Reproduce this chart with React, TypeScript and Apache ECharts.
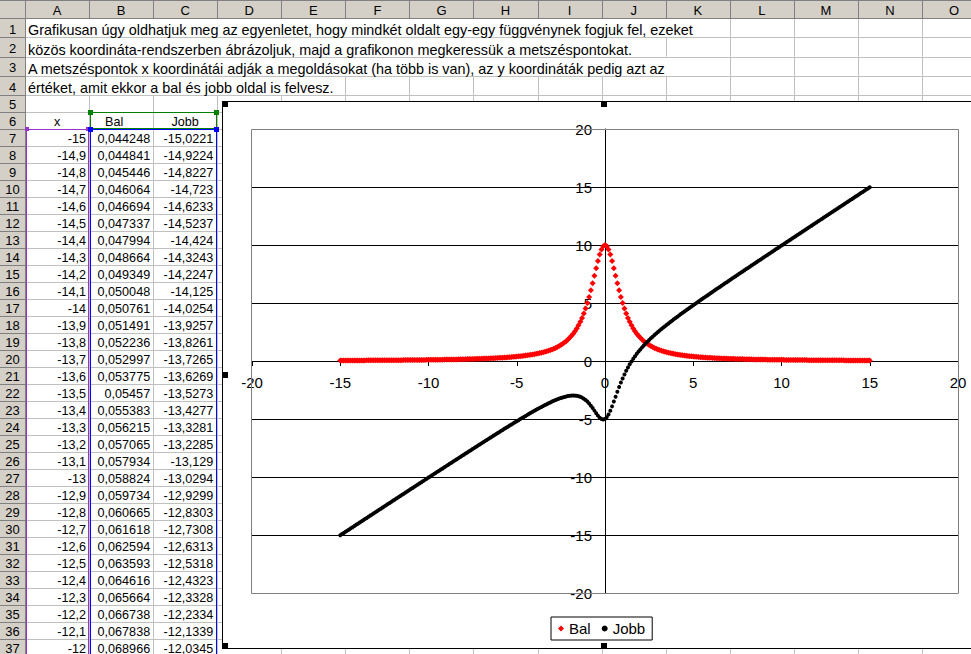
import React, { useEffect, useRef } from "react";
import * as echarts from "echarts";

// ---------- data ----------
const xValues = [
  -15, -14.9, -14.8, -14.7, -14.6, -14.5, -14.4, -14.3, -14.2, -14.1,
  -14, -13.9, -13.8, -13.7, -13.6, -13.5, -13.4, -13.3, -13.2, -13.1,
  -13, -12.9, -12.8, -12.7, -12.6, -12.5, -12.4, -12.3, -12.2, -12.1,
  -12, -11.9, -11.8, -11.7, -11.6, -11.5, -11.4, -11.3, -11.2, -11.1,
  -11, -10.9, -10.8, -10.7, -10.6, -10.5, -10.4, -10.3, -10.2, -10.1,
  -10, -9.9, -9.8, -9.7, -9.6, -9.5, -9.4, -9.3, -9.2, -9.1,
  -9, -8.9, -8.8, -8.7, -8.6, -8.5, -8.4, -8.3, -8.2, -8.1,
  -8, -7.9, -7.8, -7.7, -7.6, -7.5, -7.4, -7.3, -7.2, -7.1,
  -7, -6.9, -6.8, -6.7, -6.6, -6.5, -6.4, -6.3, -6.2, -6.1,
  -6, -5.9, -5.8, -5.7, -5.6, -5.5, -5.4, -5.3, -5.2, -5.1,
  -5, -4.9, -4.8, -4.7, -4.6, -4.5, -4.4, -4.3, -4.2, -4.1,
  -4, -3.9, -3.8, -3.7, -3.6, -3.5, -3.4, -3.3, -3.2, -3.1,
  -3, -2.9, -2.8, -2.7, -2.6, -2.5, -2.4, -2.3, -2.2, -2.1,
  -2, -1.9, -1.8, -1.7, -1.6, -1.5, -1.4, -1.3, -1.2, -1.1,
  -1, -0.9, -0.8, -0.7, -0.6, -0.5, -0.4, -0.3, -0.2, -0.1,
  0, 0.1, 0.2, 0.3, 0.4, 0.5, 0.6, 0.7, 0.8, 0.9,
  1, 1.1, 1.2, 1.3, 1.4, 1.5, 1.6, 1.7, 1.8, 1.9,
  2, 2.1, 2.2, 2.3, 2.4, 2.5, 2.6, 2.7, 2.8, 2.9,
  3, 3.1, 3.2, 3.3, 3.4, 3.5, 3.6, 3.7, 3.8, 3.9,
  4, 4.1, 4.2, 4.3, 4.4, 4.5, 4.6, 4.7, 4.8, 4.9,
  5, 5.1, 5.2, 5.3, 5.4, 5.5, 5.6, 5.7, 5.8, 5.9,
  6, 6.1, 6.2, 6.3, 6.4, 6.5, 6.6, 6.7, 6.8, 6.9,
  7, 7.1, 7.2, 7.3, 7.4, 7.5, 7.6, 7.7, 7.8, 7.9,
  8, 8.1, 8.2, 8.3, 8.4, 8.5, 8.6, 8.7, 8.8, 8.9,
  9, 9.1, 9.2, 9.3, 9.4, 9.5, 9.6, 9.7, 9.8, 9.9,
  10, 10.1, 10.2, 10.3, 10.4, 10.5, 10.6, 10.7, 10.8, 10.9,
  11, 11.1, 11.2, 11.3, 11.4, 11.5, 11.6, 11.7, 11.8, 11.9,
  12, 12.1, 12.2, 12.3, 12.4, 12.5, 12.6, 12.7, 12.8, 12.9,
  13, 13.1, 13.2, 13.3, 13.4, 13.5, 13.6, 13.7, 13.8, 13.9,
  14, 14.1, 14.2, 14.3, 14.4, 14.5, 14.6, 14.7, 14.8, 14.9,
  15,
];

const balValues = [
  0.044248, 0.044841, 0.045446, 0.046064, 0.046694, 0.047337, 0.047994, 0.048664, 0.049349, 0.050048,
  0.050761, 0.051491, 0.052236, 0.052997, 0.053775, 0.05457, 0.055383, 0.056215, 0.057065, 0.057934,
  0.058824, 0.059734, 0.060665, 0.061618, 0.062594, 0.063593, 0.064616, 0.065664, 0.066738, 0.067838,
  0.068966, 0.0701, 0.0713, 0.0725, 0.0738, 0.075, 0.0764, 0.0777, 0.0791, 0.0805,
  0.082, 0.0835, 0.085, 0.0866, 0.0882, 0.0899, 0.0916, 0.0934, 0.0952, 0.0971,
  0.099, 0.101, 0.1031, 0.1052, 0.1073, 0.1096, 0.1119, 0.1143, 0.1168, 0.1193,
  0.122, 0.1247, 0.1275, 0.1304, 0.1334, 0.1365, 0.1397, 0.1431, 0.1465, 0.1501,
  0.1538, 0.1577, 0.1617, 0.1659, 0.1702, 0.1747, 0.1793, 0.1842, 0.1893, 0.1945,
  0.2, 0.2057, 0.2117, 0.2179, 0.2244, 0.2312, 0.2383, 0.2458, 0.2535, 0.2617,
  0.2703, 0.2793, 0.2887, 0.2986, 0.309, 0.32, 0.3316, 0.3438, 0.3566, 0.3702,
  0.3846, 0.3998, 0.416, 0.4331, 0.4513, 0.4706, 0.4912, 0.5131, 0.5365, 0.5615,
  0.5882, 0.6169, 0.6477, 0.6807, 0.7163, 0.7547, 0.7962, 0.841, 0.8897, 0.9425,
  1, 1.0627, 1.1312, 1.2063, 1.2887, 1.3793, 1.4793, 1.5898, 1.7123, 1.8484,
  2, 2.1692, 2.3585, 2.5707, 2.809, 3.0769, 3.3784, 3.7175, 4.0984, 4.5249,
  5, 5.5249, 6.0976, 6.7114, 7.3529, 8, 8.6207, 9.1743, 9.6154, 9.901,
  10, 9.901, 9.6154, 9.1743, 8.6207, 8, 7.3529, 6.7114, 6.0976, 5.5249,
  5, 4.5249, 4.0984, 3.7175, 3.3784, 3.0769, 2.809, 2.5707, 2.3585, 2.1692,
  2, 1.8484, 1.7123, 1.5898, 1.4793, 1.3793, 1.2887, 1.2063, 1.1312, 1.0627,
  1, 0.9425, 0.8897, 0.841, 0.7962, 0.7547, 0.7163, 0.6807, 0.6477, 0.6169,
  0.5882, 0.5615, 0.5365, 0.5131, 0.4912, 0.4706, 0.4513, 0.4331, 0.416, 0.3998,
  0.3846, 0.3702, 0.3566, 0.3438, 0.3316, 0.32, 0.309, 0.2986, 0.2887, 0.2793,
  0.2703, 0.2617, 0.2535, 0.2458, 0.2383, 0.2312, 0.2244, 0.2179, 0.2117, 0.2057,
  0.2, 0.1945, 0.1893, 0.1842, 0.1793, 0.1747, 0.1702, 0.1659, 0.1617, 0.1577,
  0.1538, 0.1501, 0.1465, 0.1431, 0.1397, 0.1365, 0.1334, 0.1304, 0.1275, 0.1247,
  0.122, 0.1193, 0.1168, 0.1143, 0.1119, 0.1096, 0.1073, 0.1052, 0.1031, 0.101,
  0.099, 0.0971, 0.0952, 0.0934, 0.0916, 0.0899, 0.0882, 0.0866, 0.085, 0.0835,
  0.082, 0.0805, 0.0791, 0.0777, 0.0764, 0.075, 0.0738, 0.0725, 0.0713, 0.0701,
  0.068966, 0.067838, 0.066738, 0.065664, 0.064616, 0.063593, 0.062594, 0.061618, 0.060665, 0.059734,
  0.058824, 0.057934, 0.057065, 0.056215, 0.055383, 0.05457, 0.053775, 0.052997, 0.052236, 0.051491,
  0.050761, 0.050048, 0.049349, 0.048664, 0.047994, 0.047337, 0.046694, 0.046064, 0.045446, 0.044841,
  0.044248,
];

const jobbValues = [
  -15.0221, -14.9224, -14.8227, -14.723, -14.6233, -14.5237, -14.424, -14.3243, -14.2247, -14.125,
  -14.0254, -13.9257, -13.8261, -13.7265, -13.6269, -13.5273, -13.4277, -13.3281, -13.2285, -13.129,
  -13.0294, -12.9299, -12.8303, -12.7308, -12.6313, -12.5318, -12.4323, -12.3328, -12.2334, -12.1339,
  -12.0345, -11.9351, -11.8357, -11.7363, -11.6369, -11.5375, -11.4382, -11.3389, -11.2395, -11.1403,
  -11.041, -10.9417, -10.8425, -10.7433, -10.6441, -10.5449, -10.4458, -10.3467, -10.2476, -10.1485,
  -10.0495, -9.9505, -9.8515, -9.7526, -9.6537, -9.5548, -9.456, -9.3572, -9.2584, -9.1597,
  -9.061, -8.9623, -8.8637, -8.7652, -8.6667, -8.5683, -8.4699, -8.3715, -8.2733, -8.1751,
  -8.0769, -7.9789, -7.8809, -7.7829, -7.6851, -7.5873, -7.4897, -7.3921, -7.2946, -7.1973,
  -7.1, -7.0029, -6.9058, -6.809, -6.7122, -6.6156, -6.5192, -6.4229, -6.3268, -6.2309,
  -6.1351, -6.0396, -5.9443, -5.8493, -5.7545, -5.66, -5.5658, -5.4719, -5.3783, -5.2851,
  -5.1923, -5.0999, -5.008, -4.9165, -4.8256, -4.7353, -4.6456, -4.5565, -4.4682, -4.3807,
  -4.2941, -4.2085, -4.1238, -4.0404, -3.9582, -3.8774, -3.7981, -3.7205, -3.6448, -3.5713,
  -3.5, -3.4313, -3.3656, -3.3031, -3.2443, -3.1897, -3.1396, -3.0949, -3.0562, -3.0242,
  -3, -2.9846, -2.9792, -2.9853, -3.0045, -3.0385, -3.0892, -3.1587, -3.2492, -3.3624,
  -3.5, -3.6624, -3.8488, -4.0557, -4.2765, -4.5, -4.7103, -4.8872, -5.0077, -5.0505,
  -5, -4.8505, -4.6077, -4.2872, -3.9103, -3.5, -3.0765, -2.6557, -2.2488, -1.8624,
  -1.5, -1.1624, -0.8492, -0.5587, -0.2892, -0.0385, 0.1955, 0.4147, 0.6208, 0.8154,
  1, 1.1758, 1.3438, 1.5051, 1.6604, 1.8103, 1.9557, 2.0969, 2.2344, 2.3687,
  2.5, 2.6287, 2.7552, 2.8795, 3.0019, 3.1226, 3.2418, 3.3596, 3.4762, 3.5915,
  3.7059, 3.8193, 3.9318, 4.0435, 4.1544, 4.2647, 4.3744, 4.4835, 4.592, 4.7001,
  4.8077, 4.9149, 5.0217, 5.1281, 5.2342, 5.34, 5.4455, 5.5507, 5.6557, 5.7604,
  5.8649, 5.9691, 6.0732, 6.1771, 6.2808, 6.3844, 6.4878, 6.591, 6.6942, 6.7971,
  6.9, 7.0027, 7.1054, 7.2079, 7.3103, 7.4127, 7.5149, 7.6171, 7.7191, 7.8211,
  7.9231, 8.0249, 8.1267, 8.2285, 8.3301, 8.4317, 8.5333, 8.6348, 8.7363, 8.8377,
  8.939, 9.0403, 9.1416, 9.2428, 9.344, 9.4452, 9.5463, 9.6474, 9.7485, 9.8495,
  9.9505, 10.0515, 10.1524, 10.2533, 10.3542, 10.4551, 10.5559, 10.6567, 10.7575, 10.8583,
  10.959, 11.0597, 11.1605, 11.2611, 11.3618, 11.4625, 11.5631, 11.6637, 11.7643, 11.8649,
  11.9655, 12.0661, 12.1666, 12.2672, 12.3677, 12.4682, 12.5687, 12.6692, 12.7697, 12.8701,
  12.9706, 13.071, 13.1715, 13.2719, 13.3723, 13.4727, 13.5731, 13.6735, 13.7739, 13.8743,
  13.9746, 14.075, 14.1753, 14.2757, 14.376, 14.4763, 14.5767, 14.677, 14.7773, 14.8776,
  14.9779,
];

const introLines = [
  "Grafikusan úgy oldhatjuk meg az egyenletet, hogy mindkét oldalt egy-egy függvénynek fogjuk fel, ezeket",
  "közös koordináta-rendszerben ábrázoljuk, majd a grafikonon megkeressük a metszéspontokat.",
  "A metszéspontok x koordinátái adják a megoldásokat (ha több is van), az y koordináták pedig azt az",
  "értéket, amit ekkor a bal és jobb oldal is felvesz.",
];
const columnLetters = ["A", "B", "C", "D", "E", "F", "G", "H", "I", "J", "K", "L", "M", "N", "O"];
const tableHeaders = ["x", "Bal", "Jobb"];
const seriesNames = ["Bal", "Jobb"];
const visibleTableRows = 31;
const axisMin = -20;
const axisMax = 20;
const axisStep = 5;

// ---------- layout ----------
const FONT = '"Liberation Sans", Arial, Helvetica, sans-serif';
const W = 971;
const H = 654;
const COLW = 64.07;
const colX = (k: number) => 25 + k * COLW;
const rowTop = (r: number) => (r <= 5 ? 18 + (r - 1) * 19.25 : 95 + (r - 5) * 17);
const px = (v: number) => Math.round(v) + 0.5;
const excelText = (v: number) => String(v).replace(".", ",");

// plot area in page pixels
const PLOT_L = 252;
const PLOT_R = 958;
const PLOT_T = 129;
const PLOT_B = 593;
const ZERO_X = 605; // where x = 0 sits
const ZERO_Y = 361; // where y = 0 sits

function buildSheet(): any[] {
  const els: any[] = [];
  const line = (x1: number, y1: number, x2: number, y2: number, stroke: string, z: number) =>
    els.push({ type: "line", silent: true, z, shape: { x1, y1, x2, y2 }, style: { stroke, lineWidth: 1 } });
  const rect = (x: number, y: number, w: number, h: number, style: any, z: number) =>
    els.push({ type: "rect", silent: true, z, shape: { x, y, width: w, height: h }, style });
  const text = (x: number, y: number, t: string, size: number, align: string, z: number) =>
    els.push({
      type: "text",
      silent: true,
      z,
      x,
      y,
      style: {
        text: t,
        fill: "#000",
        font: `${size}px ${FONT}`,
        textAlign: align,
        align,
        textVerticalAlign: "middle",
        verticalAlign: "middle",
      },
    });

  rect(0, 0, W, H, { fill: "#fff" }, 1);

  // cell gridlines (text in rows 1-4 overflows and hides some of them)
  const overflowResume = [11, 10, 11, 5];
  for (let k = 1; k <= 15; k++) {
    const x = px(colX(k));
    for (let r = 1; r <= 4; r++) {
      if (k >= overflowResume[r - 1]) line(x, rowTop(r), x, rowTop(r + 1), "#c0c0c0", 2);
    }
    line(x, rowTop(5), x, H, "#c0c0c0", 2);
  }
  for (let r = 2; r <= 38; r++) {
    const y = px(rowTop(r));
    line(25, y, W, y, "#c0c0c0", 2);
  }

  // headers
  rect(0, 0, W, 18, { fill: "#d4d0c8" }, 3);
  rect(0, 0, 25, H, { fill: "#d4d0c8" }, 3);
  for (let k = 0; k <= 15; k++) line(px(colX(k)), 0, px(colX(k)), 18, "#808080", 4);
  for (let r = 1; r <= 38; r++) line(0, px(rowTop(r)), 25, px(rowTop(r)), "#808080", 4);
  line(0, 0.5, W, 0.5, "#808080", 4);
  line(0, px(18), W, px(18), "#808080", 4);
  line(px(25), 0, px(25), H, "#808080", 4);
  columnLetters.forEach((c, k) => text(colX(k + 0.5), 10, c, 13, "center", 5));
  for (let r = 1; r <= 37; r++) text(12.5, rowTop(r + 1) - 8, String(r), 13, "center", 5);

  // text cells
  introLines.forEach((t, i) => text(28, rowTop(i + 2) - 7, t, 14.4, "left", 5));
  const headY = rowTop(7) - 7;
  text(colX(0.5), headY, tableHeaders[0], 12.6, "center", 5);
  text(colX(1) + 25, headY, tableHeaders[1], 12.6, "center", 5);
  text(colX(2.5), headY, tableHeaders[2], 12.6, "center", 5);
  for (let i = 0; i < visibleTableRows; i++) {
    const y = rowTop(8 + i) - 7.5;
    text(colX(1) - 3, y, excelText(xValues[i]), 12.6, "right", 5);
    text(colX(2) - 3, y, excelText(balValues[i]), 12.6, "right", 5);
    text(colX(3) - 4, y, excelText(jobbValues[i]), 12.6, "right", 5);
  }

  // chart source range highlights
  rect(26.5, 129.5, 62, 600, { fill: "none", stroke: "#9933cc", lineWidth: 1 }, 6);
  rect(90.5, 112.5, 126, 16, { fill: "none", stroke: "#008000", lineWidth: 1 }, 6);
  rect(90.5, 129.5, 126, 600, { fill: "none", stroke: "#0000ff", lineWidth: 1 }, 6);
  rect(25, 127, 4, 4, { fill: "#9933cc" }, 6);
  rect(86, 127, 4, 4, { fill: "#9933cc" }, 6);
  rect(88, 110, 5, 5, { fill: "#008000" }, 6);
  rect(214, 110, 5, 5, { fill: "#008000" }, 6);
  rect(88, 127, 5, 5, { fill: "#0000ff" }, 6);
  rect(214, 127, 5, 5, { fill: "#0000ff" }, 6);

  // embedded chart area
  rect(222.5, 101.5, 764, 547, { fill: "#fff", stroke: "#000", lineWidth: 1 }, 7);
  // plot area border
  rect(PLOT_L - 0.5, PLOT_T + 0.5, PLOT_R - PLOT_L + 1, PLOT_B - PLOT_T, { fill: "none", stroke: "#808080", lineWidth: 1 }, 14);
  // selection handles
  [
    [222, 101],
    [601, 101],
    [222, 372],
    [222, 643],
    [601, 643],
  ].forEach(([x, y]) => rect(x, y, 6, 6, { fill: "#000" }, 15));
  return els;
}

export default function App() {
  const ref = useRef<HTMLDivElement>(null);
  useEffect(() => {
    if (!ref.current) return;
    const chart = echarts.init(ref.current, undefined, { renderer: "svg" });
    const labelStyle = { fontSize: 15, fontFamily: FONT, color: "#000" };
    const option: any = {
      animation: false,
      backgroundColor: "#fff",
      textStyle: { fontFamily: FONT },
      grid: {
        left: PLOT_L,
        right: W - PLOT_R,
        top: PLOT_T,
        bottom: H - PLOT_B,
        containLabel: false,
        outerBoundsMode: "none",
      },
      xAxis: {
        type: "value",
        position: "bottom",
        offset: -(PLOT_B - ZERO_Y),
        min: axisMin,
        max: axisMax,
        interval: axisStep,
        z: 10,
        axisLine: { show: true, onZero: false, lineStyle: { color: "#000", width: 1 } },
        axisTick: { show: true, length: 5, inside: false, lineStyle: { color: "#000", width: 1 } },
        axisLabel: { ...labelStyle, margin: 14, hideOverlap: false },
        splitLine: { show: false },
      },
      yAxis: {
        type: "value",
        position: "left",
        offset: -(ZERO_X - PLOT_L),
        min: axisMin,
        max: axisMax,
        interval: axisStep,
        z: 10,
        axisLine: { show: true, onZero: false, lineStyle: { color: "#000", width: 1 } },
        axisTick: { show: true, length: 5, inside: false, lineStyle: { color: "#000", width: 1 } },
        axisLabel: { ...labelStyle, margin: 13, hideOverlap: false },
        splitLine: { show: true, lineStyle: { color: "#000", width: 1, type: "solid" } },
      },
      legend: {
        left: 551,
        top: 617,
        orient: "horizontal",
        padding: [4, 7, 4, 7],
        itemGap: 11,
        itemWidth: 6,
        itemHeight: 6,
        borderColor: "#000",
        borderWidth: 1,
        borderRadius: 0,
        backgroundColor: "#fff",
        z: 13,
        textStyle: { ...labelStyle },
        data: [
          { name: seriesNames[0], icon: "diamond" },
          { name: seriesNames[1], icon: "circle" },
        ],
      },
      series: [
        {
          type: "scatter",
          name: seriesNames[0],
          z: 11,
          symbol: "diamond",
          symbolSize: 6,
          itemStyle: { color: "#ff0000", opacity: 1 },
          data: xValues.map((x, i) => [x, balValues[i]]),
        },
        {
          type: "scatter",
          name: seriesNames[1],
          z: 12,
          symbol: "circle",
          symbolSize: 4,
          itemStyle: { color: "#000000", opacity: 1 },
          data: xValues.map((x, i) => [x, jobbValues[i]]),
        },
      ],
      graphic: { elements: buildSheet() },
    };
    chart.setOption(option);
    return () => chart.dispose();
  }, []);
  return (
    <div
      ref={ref}
      style={{ position: "fixed", left: 0, top: 0, width: W, height: H, background: "#fff" }}
    />
  );
}
